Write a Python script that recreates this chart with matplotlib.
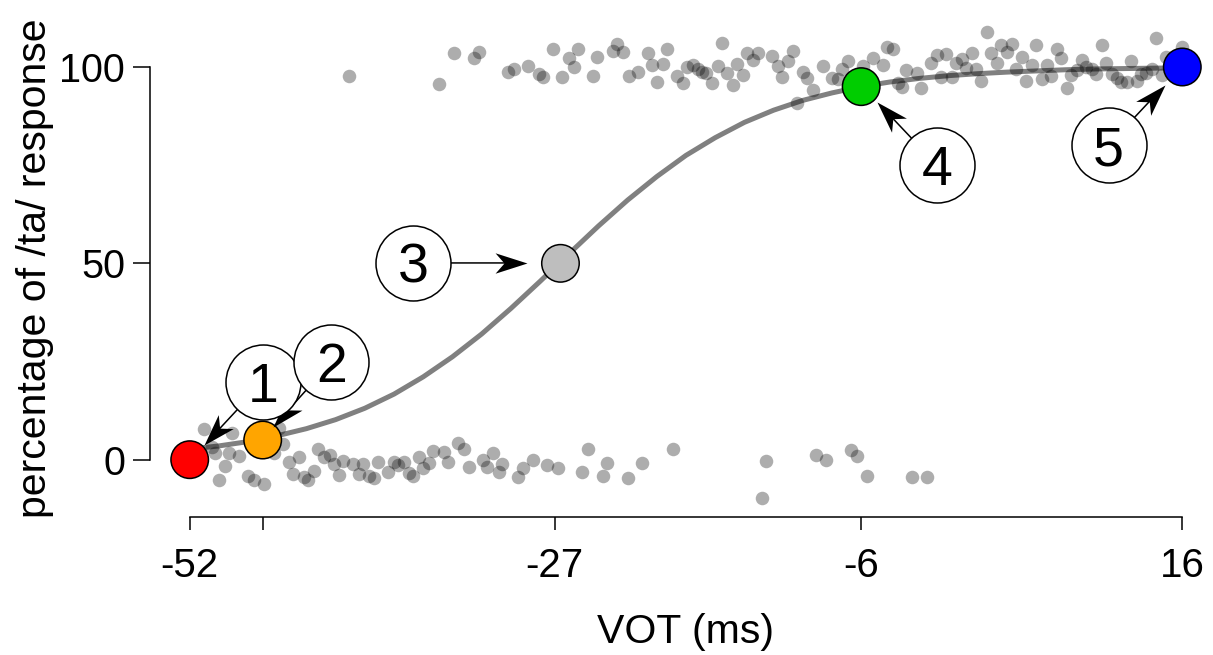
import math
import matplotlib
matplotlib.use('Agg')
import matplotlib.pyplot as plt
from matplotlib.path import Path
from matplotlib.markers import MarkerStyle
from matplotlib.transforms import Affine2D

plt.rcParams['font.family'] = ['Liberation Sans', 'DejaVu Sans']

# single trials: VOT (ms) and response (% /ta/), jittered vertically
trial_vot = [
    -51.0, -49.1, -50.5, -50.3, -49.3, -48.6, -49.6, -50.0, -48.0, -47.6, -46.9, -46.2,
    -45.9, -45.6, -45.2, -44.5, -44.9, -44.2, -43.9, -43.5, -43.2, -42.8, -42.4, -42.1,
    -41.8, -41.5, -40.8, -40.4, -40.1, -39.7, -39.4, -39.1, -38.4, -38.0, -37.7, -37.3,
    -37.0, -36.7, -36.3, -36.0, -35.6, -35.3, -34.6, -34.3, -33.6, -33.2, -32.9, -31.9,
    -31.2, -31.6, -30.8, -30.6, -29.5, -29.2, -28.5, -27.5, -26.8, -25.1, -24.7, -23.4,
    -23.7, -22.0, -21.0, -18.9, -12.5, -12.8, -9.1, -8.4, -6.7, -6.3, -5.6, -2.5, -1.5,
    -41.1, -34.9, -33.9, -32.5, -32.2, -30.2, -29.8, -28.8, -28.1, -27.8, -27.1, -26.5,
    -26.0, -25.7, -25.4, -24.4, -24.1, -23.0, -22.7, -22.3, -21.9, -21.3, -20.6, -20.3,
    -20.0, -19.6, -19.3, -18.6, -18.2, -17.9, -17.5, -17.2, -16.9, -16.6, -16.2, -15.8,
    -15.5, -15.2, -14.8, -14.5, -14.1, -13.8, -13.4, -13.1, -12.1, -11.7, -11.4, -11.0,
    -10.7, -10.4, -10.0, -9.7, -9.3, -8.6, -8.0, -7.6, -7.3, -6.9, -5.9, -5.2, -4.5,
    -4.2, -3.8, -3.5, -3.2, -2.9, -2.2, -1.9, -1.2, -0.8, -0.5, -0.2, 0.2, 0.5, 0.9,
    1.2, 1.6, 1.9, 2.2, 2.6, 2.9, 3.3, 3.6, 4.0, 4.3, 4.6, 5.0, 5.3, 5.7, 6.0, 6.4,
    6.7, 7.0, 7.4, 7.7, 8.1, 8.4, 8.8, 9.1, 9.4, 9.8, 10.1, 10.5, 10.8, 11.2, 11.5,
    11.8, 12.2, 12.5, 12.9, 13.2, 13.5, 13.9, 14.2, 14.6, 14.9, 16.0,
]
trial_resp = [
    7.9, 6.9, 3.3, 1.8, 1.8, 1.0, -1.5, -5.3, -4.1, -5.3, -6.1, 1.8,
    8.1, 4.1, -0.5, 0.8, -3.6, -4.3, -5.1, -2.8, 2.8, 0.8, 1.3, -1.0,
    -3.8, -0.3, -1.0, -3.6, -1.0, -4.1, -4.6, -0.5, -3.1, -0.5, -1.3, -0.5,
    -3.3, -4.1, 0.8, -2.0, -0.8, 2.3, 2.0, -0.5, 4.3, 2.8, -1.8, 0.0,
    1.8, -1.8, -3.1, -1.0, -4.3, -2.0, 0.0, -1.3, -2.0, -3.1, 2.8, -0.8,
    -4.1, -4.6, -0.8, 2.8, -0.3, -9.7, 1.3, 0.0, 2.5, 1.0, -4.1, -4.3, -4.3,
    97.7, 95.7, 103.6, 102.3, 103.8, 98.7, 99.5, 100.3, 98.2, 97.5, 104.6, 97.5,
    102.3, 100.0, 104.6, 97.7, 102.5, 104.1, 105.9, 103.8, 97.7, 98.7, 103.6, 100.5,
    96.2, 100.8, 104.6, 97.7, 95.9, 100.0, 100.5, 99.5, 98.7, 98.5, 95.9, 100.3,
    106.1, 98.5, 95.4, 100.8, 98.0, 103.6, 101.8, 103.6, 102.8, 100.3, 97.5, 101.5,
    104.1, 90.8, 98.7, 97.2, 94.1, 100.3, 97.2, 96.9, 99.5, 101.5, 100.3, 102.3, 100.5,
    105.1, 104.6, 95.9, 94.9, 99.2, 98.5, 94.7, 101.0, 103.1, 97.5, 103.3, 97.5, 101.0, 102.0,
    99.7, 103.6, 99.5, 96.4, 108.9, 103.6, 101.0, 105.6, 103.8, 105.9, 99.5, 102.5, 96.4, 100.5, 105.6, 96.9,
    100.5, 97.7, 104.6, 102.3, 94.7, 98.0, 99.2, 101.8, 100.0, 99.5, 98.2, 105.6, 101.0, 98.2, 97.2,
    96.2, 96.2, 101.5, 96.4, 98.2, 98.5, 99.5, 107.4, 98.0, 102.5, 105.1,
]

# fitted psychometric curve
curve_vot = [-52, -50, -48, -46, -44, -42, -40, -38, -36, -34, -32, -30, -28, -26, -24, -22, -20, -18,
             -16, -14, -12, -10, -8, -6, -4, -2, 0, 2, 4, 6, 8, 10, 12, 14, 16]
curve_resp = [2.7, 3.5, 4.6, 6.1, 7.9, 10.2, 13.1, 16.7, 21.1, 26.2, 32.0, 38.5, 45.4, 52.5, 59.5, 66.1,
              72.1, 77.5, 82.0, 85.9, 89.0, 91.5, 93.4, 95.0, 96.2, 97.1, 97.8, 98.3, 98.7, 99.0, 99.3,
              99.5, 99.6, 99.7, 99.8]

# the five selected stimuli
stim_labels = ['1', '2', '3', '4', '5']
stim_vot = [-52, -47, -26.6, -6, 16]
stim_resp = [0, 5, 50, 95, 100]
stim_colors = ['#ff0000', '#ffa500', '#bebebe', '#00cd00', '#0000ff']

xtick_pos = [-52, -47, -27, -6, 16]
xtick_labels = ['-52', '', '-27', '-6', '16']

# where the numbered circles sit and where their arrows end
circle_xy = [(-47.0, 19.7), (-42.3, 24.8), (-36.7, 50.1), (-0.8, 75.0), (10.95, 80.1)]
arrow_tip = [(-51.0, 3.7), (-46.3, 8.3), (-28.9, 50.1), (-4.9, 91.1), (14.8, 95.4)]

fig = plt.figure(figsize=(12.13, 6.55), dpi=100)
ax = fig.add_axes([150 / 1213, 1 - 517 / 655, 1072 / 1213, 503.4 / 655])
ax.set_xlim(-54.72, 18.72)
ax.set_ylim(-14.6, 113.6)

ax.plot(curve_vot, curve_resp, color='#808080', lw=3.6, zorder=2, solid_capstyle='butt')
ax.scatter(trial_vot, trial_resp, s=95, color='black', alpha=0.32, linewidths=0, zorder=3)
ax.scatter(stim_vot, stim_resp, s=27 ** 2, c=stim_colors, edgecolors='black', linewidths=1.1, zorder=5)

# stealth-like arrow head, tip at the origin
head = Path([(0, 0), (-1, 0.32), (-0.72, 0), (-1, -0.32), (0, 0)],
            [Path.MOVETO, Path.LINETO, Path.LINETO, Path.LINETO, Path.CLOSEPOLY])

for lab, (cx, cy), (tx, ty) in zip(stim_labels, circle_xy, arrow_tip):
    (px0, py0), (px1, py1) = ax.transData.transform([(cx, cy), (tx, ty)])
    ang = math.degrees(math.atan2(py1 - py0, px1 - px0))
    ax.annotate('', xy=(tx, ty), xytext=(cx, cy),
                arrowprops=dict(arrowstyle='-', color='black', lw=1.1, shrinkA=27, shrinkB=10), zorder=6)
    ax.plot([tx], [ty], linestyle='none', marker=MarkerStyle(head, transform=Affine2D().rotate_deg(ang)),
            ms=46, color='black', mew=0, zorder=6)
    ax.plot([cx], [cy], 'o', ms=54, mfc='white', mec='black', mew=1.1, zorder=7)
    ax.text(cx, cy, lab, fontsize=40, ha='center', va='center_baseline', zorder=8)

for side in ['top', 'right']:
    ax.spines[side].set_visible(False)
ax.spines['left'].set_bounds(0, 100)
ax.spines['bottom'].set_bounds(-52, 16)
ax.spines['left'].set_linewidth(1.1)
ax.spines['bottom'].set_linewidth(1.1)

ax.set_xticks(xtick_pos)
ax.set_xticklabels(xtick_labels)
ax.set_yticks([0, 50, 100])
ax.set_yticklabels(['0', '50', '100'])
ax.tick_params(axis='x', length=9.5, width=1.1, pad=12, labelsize=29)
ax.tick_params(axis='y', length=12, width=1.1, pad=6, labelsize=28.5)

fig.text(686 / 1213, 1 - 632 / 655, 'VOT (ms)', fontsize=29.5, ha='center', va='center')
fig.text(35 / 1213, 1 - 268 / 655, 'percentage of /ta/ response', fontsize=29.5,
         ha='center', va='center', rotation=90)

fig.savefig('out.png', dpi=100)
